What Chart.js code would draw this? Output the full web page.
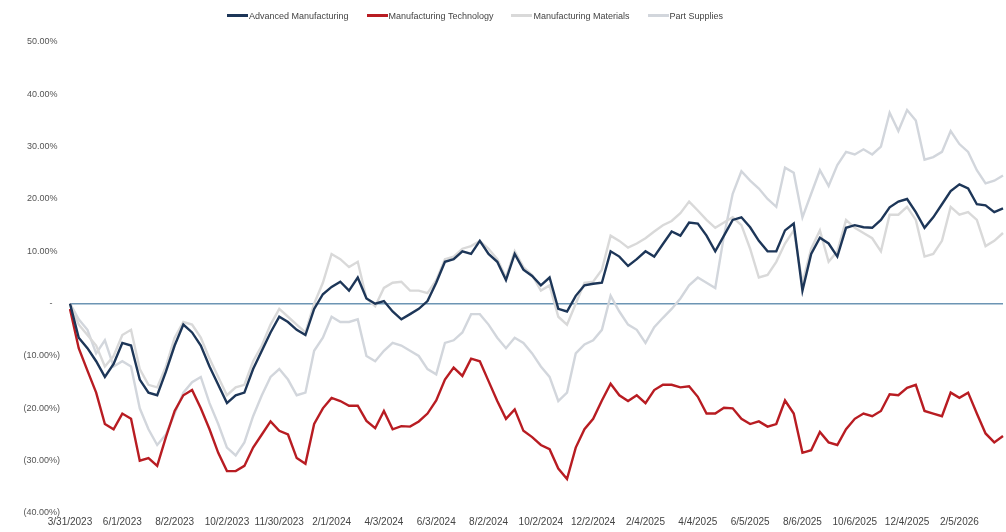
<!DOCTYPE html>
<html>
<head>
<meta charset="utf-8">
<script src="https://cdn.jsdelivr.net/npm/chart.js@4.4.1/dist/chart.umd.min.js"></script>
<style>
    body { margin: 0; background: #fff; }
    .wrap { position: relative; width: 1006px; height: 532px; }
    .custom-legend {
        position: absolute; top: 11px; left: 227px; margin: 0; padding: 0;
        list-style: none; font-family: "Liberation Sans", Arial, sans-serif;
        font-size: 9px; color: #444; white-space: nowrap;
    }
    .custom-legend li { display: inline-block; margin-right: 18px; }
    .legend-color { display: inline-block; width: 21px; height: 3px; vertical-align: middle; margin-right: 1px; position: relative; top: -1px; }
</style>
</head>
<body>
<div class="wrap">
    <ul class="custom-legend"></ul>
    <canvas id="chart"></canvas>
</div>
<script>
const seriesNames = ['Advanced Manufacturing', 'Manufacturing Technology', 'Manufacturing Materials', 'Part Supplies'];
const seriesColors = ['#1d3658', '#b81c22', '#d9d9d9', '#d2d6dc'];

// one label every 6 points
const tickLabels = ['3/31/2023', '6/1/2023', '8/2/2023', '10/2/2023', '11/30/2023', '2/1/2024',
    '4/3/2024', '6/3/2024', '8/2/2024', '10/2/2024', '12/2/2024', '2/4/2025',
    '4/4/2025', '6/5/2025', '8/6/2025', '10/6/2025', '12/4/2025', '2/5/2026'];

const advancedMfg = [0, -6.5, -8.5, -11, -14, -11.5, -7.5, -8, -14.5, -17,
    -17.5, -13, -8, -4, -5.5, -8, -12, -15.5, -19, -17.5,
    -17, -12.5, -9, -5.5, -2.5, -3.5, -5, -6, -1, 1.8,
    3.2, 4.2, 2.5, 5, 1, 0, 0.5, -1.5, -3, -2,
    -1, 0.5, 4, 8, 8.5, 10, 9.5, 12, 9.5, 8,
    4.5, 9.5, 6.5, 5.3, 3.5, 5, -1, -1.5, 1.5, 3.5,
    3.8, 4, 10, 9, 7.2, 8.5, 10, 9, 11.4, 13.8,
    13, 15.5, 15.3, 13, 10, 13, 16, 16.5, 14.6, 12,
    10, 10, 14, 15.3, 2.5, 9.5, 12.6, 11.5, 9, 14.5,
    15, 14.6, 14.5, 16, 18.4, 19.5, 20, 17.5, 14.5, 16.5,
    19, 21.5, 22.8, 22, 19, 18.8, 17.5, 18.2];

const mfgTechnology = [-1, -8.5, -12.8, -17, -23, -24, -21, -22, -30, -29.5,
    -31, -25.5, -20.5, -17.5, -16.5, -20, -24, -28.5, -32, -32,
    -31, -27.5, -25, -22.5, -24.3, -25, -29.5, -30.6, -23, -20,
    -18, -18.6, -19.5, -19.5, -22.4, -23.8, -20.5, -24, -23.4, -23.5,
    -22.5, -21, -18.5, -14.5, -12.2, -13.8, -10.5, -11, -14.8, -18.6,
    -22, -20.2, -24.3, -25.5, -27, -27.8, -31.5, -33.5, -27.5, -24,
    -22, -18.5, -15.3, -17.5, -18.6, -17.5, -19, -16.5, -15.5, -15.5,
    -16, -15.8, -17.8, -21, -21, -19.9, -20, -22, -23, -22.5,
    -23.5, -23, -18.5, -21, -28.5, -28, -24.5, -26.5, -27, -24,
    -22, -21, -21.5, -20.5, -17.3, -17.5, -16.1, -15.5, -20.5, -21,
    -21.5, -17, -18, -17, -21, -24.8, -26.5, -25.3];

const mfgMaterials = [0, -4, -6, -8, -12, -10, -6, -5, -12.5, -15.5,
    -16, -12, -6.5, -3.5, -4, -6.5, -10.5, -14, -17.5, -16,
    -15.5, -11, -8, -4, -1, -2.5, -4, -5.5, 0, 4,
    9.5, 8.5, 7, 8, 1, -0.5, 3, 4, 4.2, 2.5,
    2.5, 2, 4.5, 8.5, 9, 10.5, 11, 12, 10.5, 8.5,
    5, 10, 7, 5.5, 2.5, 3.5, -2.5, -4, 0, 4,
    4.2, 6.5, 13, 12, 10.7, 11.5, 12.5, 13.8, 15, 15.8,
    17.3, 19.5, 17.8, 16, 14.5, 15.5, 16.5, 15, 10.5, 5,
    5.5, 8, 11.5, 14, 4, 10.5, 14, 8, 10, 16,
    14.5, 13.5, 12.5, 10, 17, 17, 18.5, 16, 9, 9.5,
    12, 18.5, 17, 17.5, 16, 11, 12, 13.5];

const partSupplies = [0, -3, -5, -9.5, -7, -12, -11, -12, -20, -24,
    -27, -25, -21, -17, -15, -14, -19, -23, -27.5, -29,
    -26.5, -21.5, -17.5, -14, -12.5, -14.5, -17.5, -17, -9, -6.5,
    -2.5, -3.5, -3.5, -3, -10, -11, -9, -7.5, -8, -9,
    -10, -12.5, -13.5, -7.5, -7, -5.5, -2, -2, -4, -6.5,
    -8.5, -6.5, -7.5, -9.5, -12, -14, -18.6, -17, -9.5, -7.8,
    -7, -5, 1.5, -1.5, -4, -5, -7.5, -4.5, -2.7, -1,
    1, 3.5, 5, 4, 3, 13, 21, 25.3, 23.5, 22,
    20, 18.5, 26, 25, 16.5, 21, 25.5, 22.5, 26.5, 29,
    28.5, 29.5, 28.5, 30, 36.5, 33, 37, 35, 27.5, 28,
    29, 33, 30.5, 29, 25.5, 23, 23.5, 24.5];

document.addEventListener('DOMContentLoaded', function() {
    const canvas = document.getElementById('chart');
    canvas.width = 1006;
    canvas.height = 532;

    const labels = advancedMfg.map((v, i) => (i % 6 === 0 ? tickLabels[i / 6] : ''));
    const values = [advancedMfg, mfgTechnology, mfgMaterials, partSupplies];

    const data = {
        labels: labels,
        datasets: values.map((vals, i) => ({
            label: seriesNames[i],
            data: vals,
            borderColor: seriesColors[i],
            borderWidth: 2.4,
            pointRadius: 0,
            tension: 0,
            order: i
        }))
    };

    const options = {
        responsive: false,
        animation: false,
        layout: { padding: { top: 42, right: 2, left: 0, bottom: 0 } },
        plugins: {
            legend: { display: false },
            tooltip: { enabled: false }
        },
        scales: {
            x: {
                grid: { display: false, drawTicks: false },
                border: { display: false },
                ticks: {
                    autoSkip: false,
                    maxRotation: 0,
                    padding: 3,
                    color: '#444',
                    font: { family: 'Liberation Sans', size: 10 }
                },
                afterFit: function(axis) { axis.height = 19; }
            },
            y: {
                min: -40,
                max: 50,
                border: { display: false },
                grid: {
                    drawTicks: false,
                    lineWidth: 1.5,
                    color: ctx => (ctx.tick && ctx.tick.value === 0 ? '#6d95b4' : 'rgba(0,0,0,0)')
                },
                ticks: {
                    stepSize: 10,
                    padding: 10,
                    color: '#555',
                    font: { family: 'Liberation Sans', size: 9 },
                    callback: function(v) {
                        if (v === 0) return '-   ';
                        if (v < 0) return '(' + Math.abs(v).toFixed(2) + '%)';
                        return v.toFixed(2) + '% ';
                    }
                },
                afterFit: function(axis) { axis.width = 70; }
            }
        }
    };

    const ctx = canvas.getContext('2d');
    const lineChart = new Chart(ctx, {
        type: 'line',
        data: data,
        options: options
    });

    // legenda feita a mao, igual ao grafico original
    const legendContainer = document.querySelector('.custom-legend');
    if (legendContainer) {
        legendContainer.innerHTML = createLegendHTML(seriesNames, seriesColors);
    }
});

function createLegendHTML(labels, colors) {
    let legendHTML = '';
    for (let i = 0; i < labels.length; i++) {
        legendHTML += `<li><span class="legend-color" style="background-color: ${colors[i]}"></span>${labels[i]}</li>`;
    }
    return legendHTML;
}
</script>
</body>
</html>
